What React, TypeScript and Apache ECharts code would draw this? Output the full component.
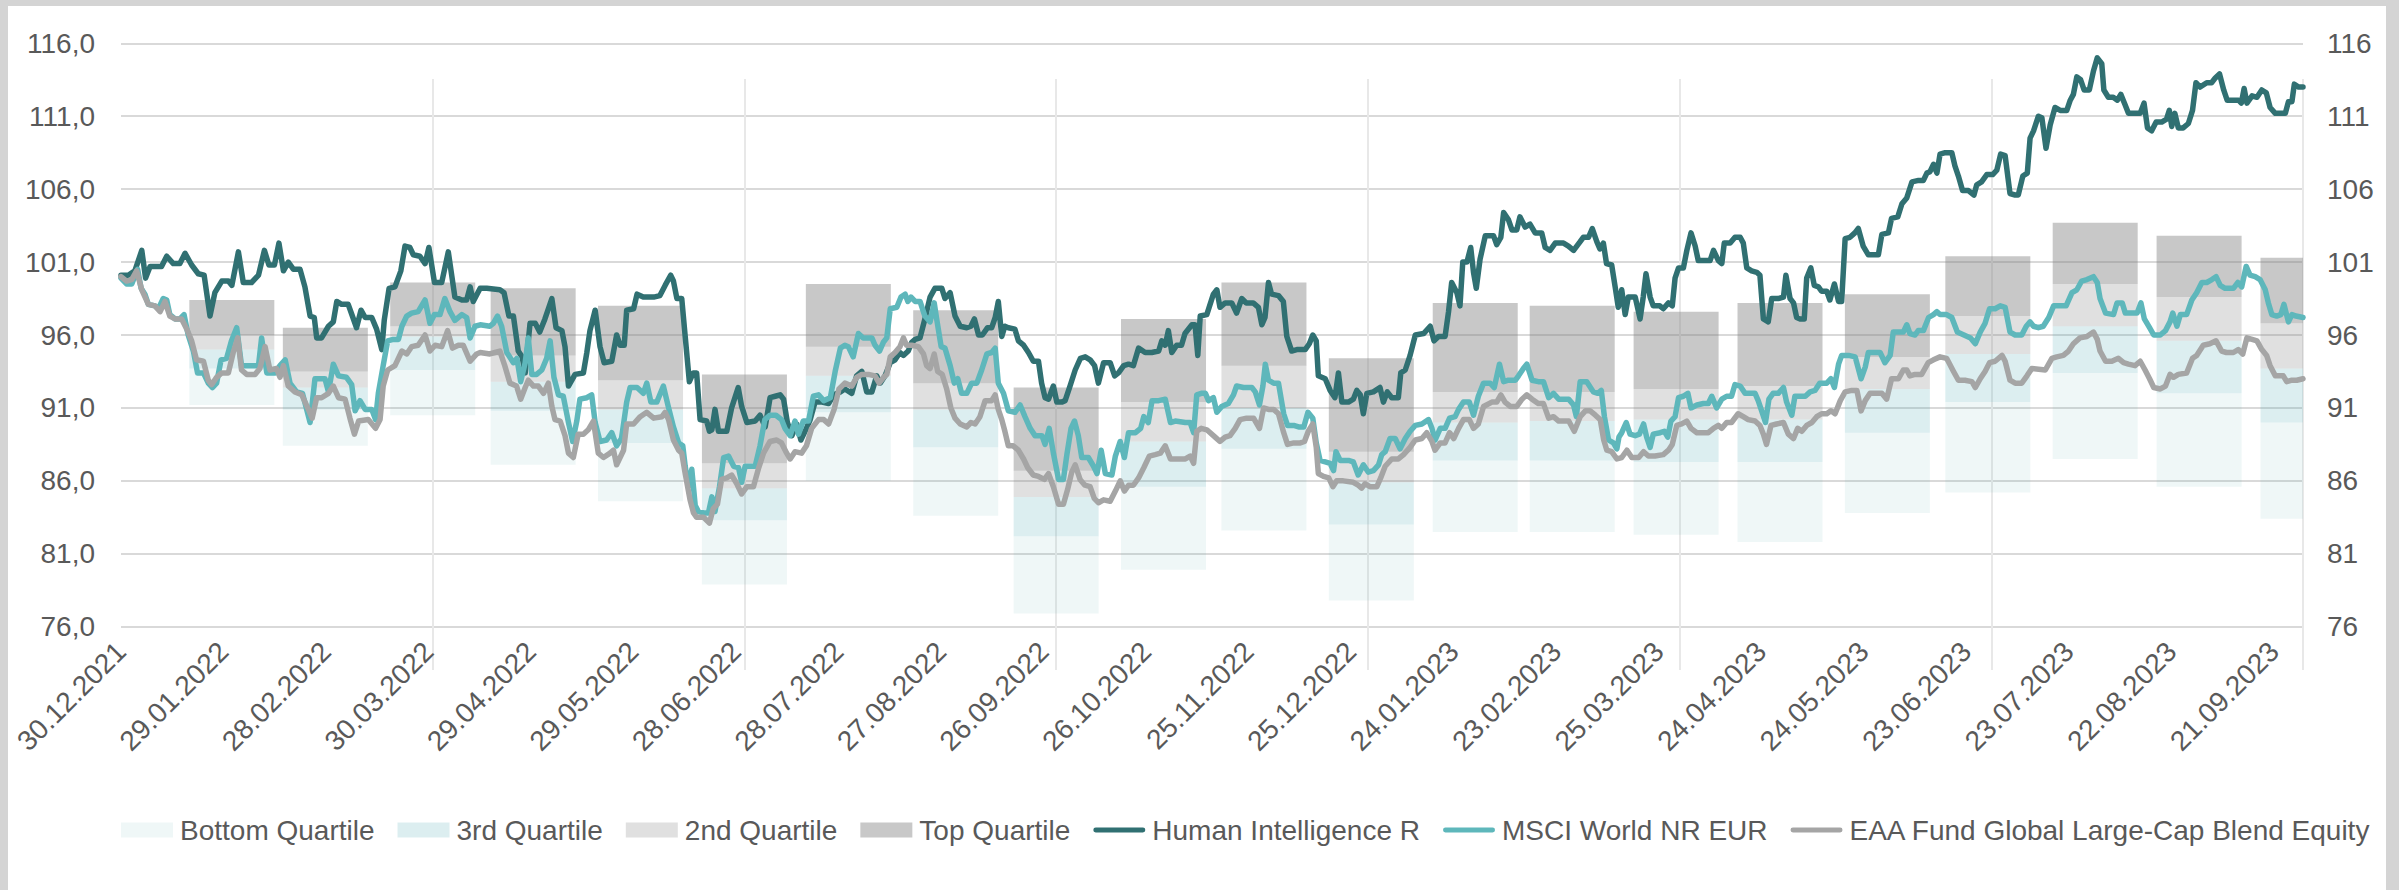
import React, { useEffect, useRef } from 'react';
import * as echarts from 'echarts';

// x positions are days since 30.12.2021
const xTickLabels = [
  '30.12.2021', '29.01.2022', '28.02.2022', '30.03.2022', '29.04.2022', '29.05.2022',
  '28.06.2022', '28.07.2022', '27.08.2022', '26.09.2022', '26.10.2022', '25.11.2022',
  '25.12.2022', '24.01.2023', '23.02.2023', '25.03.2023', '24.04.2023', '24.05.2023',
  '23.06.2023', '23.07.2023', '22.08.2023', '21.09.2023',
];

// Peer-group quartile boxes (monthly)
const boxDays = [32, 59, 90, 119, 150, 180, 210, 241, 270, 301, 330, 361, 391, 419, 449, 479, 510, 539, 570, 600, 630];
const q5 = [91.2, 88.4, 90.5, 87.1, 84.6, 78.9, 86.0, 83.6, 76.9, 79.9, 82.6, 77.8, 82.5, 82.5, 82.3, 81.8, 83.8, 85.2, 87.5, 85.6, 83.4];
const q25 = [93.7, 90.9, 93.6, 90.8, 88.6, 83.3, 90.7, 88.3, 82.2, 85.6, 88.2, 83.0, 87.4, 87.4, 87.3, 87.3, 89.3, 91.4, 93.4, 92.0, 90.0];
const q50 = [95.0, 92.4, 95.9, 92.8, 90.9, 85.5, 93.2, 90.9, 84.9, 88.7, 91.0, 85.9, 90.0, 90.1, 90.2, 90.2, 92.3, 94.7, 96.6, 95.6, 93.7];
const q75 = [96.0, 93.5, 96.6, 94.6, 92.9, 87.2, 95.2, 92.7, 86.7, 91.4, 93.9, 88.0, 92.1, 92.1, 92.3, 92.5, 94.5, 97.3, 99.5, 98.6, 96.8];
const q95 = [98.4, 96.5, 99.6, 99.2, 98.0, 93.3, 99.5, 97.7, 92.4, 97.1, 99.6, 94.4, 98.2, 98.0, 97.6, 98.2, 98.8, 101.4, 103.7, 102.8, 101.3];

const humanIntelligence: [number, number][] = [
  [0,100.1],[2.1,100.1],[4,100.4],[6,101.8],[7.1,99.9],[8.4,100.7],[11.7,100.7],[13.2,101.4],[15.1,100.9],[17,100.9],[18.5,101.6],[20.4,100.8],[22.3,100.2],[24,100.1],[25.7,97.3],[27.1,98.9],[29.1,99.7],[31,99.7],[32,99.4],[33.9,101.7],[35.3,99.6],[37.7,99.6],[39.7,100.1],[41.4,101.8],[42.7,100.8],[44.3,100.8],[45.6,102.3],[46.9,100.4],[48.3,101.0],[49.8,100.5],[51.7,100.5],[53.1,99.3],[54.6,97.3],[55.8,97.2],[56.5,95.8],[57.9,95.8],[59.9,96.6],[61.3,96.9],[62.3,98.3],[63.7,98.1],[65.6,98.1],[66.8,97.3],[68,96.5],[69.3,97.7],[70.5,97.2],[72.4,97.2],[73.8,96.4],[75.3,95.0],[76,97.0],[77.4,99.2],[79.1,99.3],[80.8,100.4],[82,102.1],[83.4,102.0],[84.4,101.5],[86.3,101.4],[87.8,100.9],[88.9,102.0],[90.5,99.6],[92.6,99.6],[94.5,101.7],[96.4,98.6],[98.4,98.4],[99.8,98.4],[100.8,99.3],[101.7,98.3],
  [103.7,99.2],[105.6,99.2],[109.4,99.1],[110.6,98.9],[112,97.3],[113.3,97.3],[114.7,94.9],[115.8,94.5],[116.7,93.4],[118.1,96.8],[119.6,96.8],[120.9,96.2],[122.4,97.1],[124.4,98.5],[125.6,96.5],[127.3,96.3],[128.2,95.2],[129.2,92.5],[131.1,93.3],[133.5,93.4],[134.5,94.8],[135.4,96.3],[136.9,97.7],[138.3,95.2],[139.5,94.1],[141.7,94.2],[143.1,96.0],[144.1,95.3],[145.3,95.3],[146,97.7],[148,97.8],[149,98.8],[150.8,98.6],[153.8,98.6],[155.6,98.7],[157.1,99.4],[158.7,100.1],[159.5,99.7],[160.5,98.5],[161.9,98.5],[162.9,95.9],[164.1,92.8],[165.2,93.4],[166.2,93.4],[167.2,90.2],[169.1,90.1],[169.9,89.4],[170.6,89.5],[171.5,90.9],[172.5,89.4],[174.9,89.4],[176.3,91.0],[178.2,92.4],[179.2,91.1],[180.7,90.0],[183.1,90.1],[184.5,90.5],[186,89.7],[187.4,91.7],[188.9,91.8],[190.3,91.9],[191.3,91.6],[192.4,90.0],[193.7,89.1],[195.1,89.9],[196.3,88.8],[197.5,89.4],[199,90.2],[200.4,91.4],[202.4,91.4],[204.3,91.3],[205.8,91.9],[207.7,92.1],
  [209,92.3],[211,92.0],[212.4,93.2],[213.9,93.5],[215.3,92.1],[216.8,92.1],[218.2,93.2],[219.2,92.7],[220.6,93.2],[222.1,94.1],[223.5,94.3],[224.9,94.8],[225.9,94.6],[227.3,94.9],[228.3,95.5],[229.3,95.7],[230.7,95.8],[232.1,97.1],[233.6,98.6],[235,99.2],[237,99.2],[237.9,98.5],[239.4,98.9],[240.8,97.3],[242.3,96.6],[244.2,96.5],[245.4,96.6],[246.4,97.1],[247.6,96.0],[248.7,96.0],[250.2,96.5],[251.4,96.5],[252.4,97.2],[253.3,98.3],[254.3,95.9],[255.2,96.6],[256.2,96.5],[258.1,96.4],[259.1,95.6],[260.6,95.3],[262,94.8],[263.4,94.2],[264.9,94.2],[265.8,92.7],[266.8,91.7],[267.8,91.6],[269.2,92.5],[270.2,91.4],[271.6,91.4],[272.6,91.5],[274,92.5],[275.5,93.6],[277,94.4],[278.4,94.5],[279.8,94.3],[281.1,93.9],[282.2,92.7],[283.7,94.1],[285.6,94.1],[286.9,93.2],[288,93.4],[289.5,93.9],[290.9,94.0],[292.3,93.9],[293.8,95.1],[295.7,94.8],[297.6,94.8],[299.6,94.9],[300.5,95.6],[301.5,95.3],[302.4,96.3],[303.4,94.8],[304.8,95.3],[306.2,95.3],[307.2,96.1],[309.2,96.7],[310.1,96.7],[310.9,94.6],[311.6,97.3],[313.5,97.4],
  [315.4,98.8],[316.4,99.1],[317.3,97.9],[318.8,98.2],[320.7,98.2],[322.1,97.5],[323.6,98.5],[324.9,98.2],[326.9,98.2],[328.4,97.9],[329.4,96.7],[330.3,97.2],[331.3,99.6],[332.2,98.8],[334.2,98.7],[335.6,98.3],[336.6,95.9],[338,94.9],[339.5,95.0],[341.9,95.0],[343.1,95.4],[344.1,96.0],[345.1,95.6],[345.7,93.2],[347.7,93.0],[349.1,92.2],[350.5,91.7],[351.5,93.4],[352.5,91.4],[354.4,91.4],[355.8,91.6],[356.8,92.2],[357.8,91.9],[358.7,90.6],[359.7,92.0],[361.6,92.1],[363.5,92.4],[364.5,91.4],[365.6,92.1],[366.9,91.7],[368.8,91.7],[369.5,93.4],[370.8,93.6],[372.2,94.6],[373.7,96.0],[376.1,96.1],[378,96.6],[379.1,95.6],[380.4,95.9],[382.3,95.9],[383.3,97.6],[384.2,99.6],[385.7,98.9],[386.6,98.0],[387.4,101.0],[388.6,101.0],[389.7,102.0],[390.5,100.3],[391.3,99.2],[392.4,101.2],[393.9,102.8],[396.3,102.8],[397.2,102.2],[398.4,102.7],[399.2,104.4],[400.6,103.9],[401.6,103.2],[403,103.2],[403.9,104.1],[405.4,103.4],[406.8,103.6],[408.3,103.0],[410.2,103.0],[411.2,102.0],[412.6,101.8],[414.1,102.3],[416.5,102.3],[417.9,102.1],[419.4,101.8],
  [421.3,102.4],[422.2,102.7],[423.7,102.7],[424.8,103.3],[426.1,102.4],[427,101.9],[428,102.3],[428.9,100.9],[430.4,100.8],[431.4,99.3],[432.3,97.9],[433.3,99.1],[434.3,97.4],[435.2,98.6],[437.2,98.6],[438.6,97.1],[439.5,98.6],[440.3,100.2],[441.5,98.6],[442.4,98.0],[444.3,98.0],[445.3,97.8],[446.8,98.2],[447.9,98.0],[448.7,99.9],[449.7,100.6],[451.1,100.6],[452.1,101.8],[453.3,103.0],[454.5,102.1],[455.4,101.1],[456.9,101.1],[458.8,101.1],[459.8,101.8],[461.2,101.1],[462.2,100.9],[462.9,102.3],[464.6,102.3],[466,102.7],[467.5,102.7],[468.4,102.3],[469.4,100.6],[470.8,100.4],[472.3,100.3],[473.2,100.1],[474.2,97.1],[475.6,96.9],[476.6,98.5],[478.5,98.5],[480,98.6],[480.7,100.1],[481.9,98.5],[482.9,98.2],[483.8,97.2],[484.8,97.1],[486,97.1],[486.7,99.9],[487.9,100.6],[488.9,99.4],[490.1,99.3],[491,99.0],[492.5,99.0],[493.4,98.4],[494.7,99.5],[495.9,98.3],[496.8,98.3],[497.8,102.6],[499.2,102.7],[500.6,103.0],[501.6,103.3],[503,102.1],[504.5,101.5],[505.9,101.5],[507.4,101.5],[508.4,102.9],[510.3,103.0],[511.2,104.0],[513,104.1],[514.2,105.0],[515.6,105.4],[517.1,106.5],[519,106.6],[520.4,106.6],[521.4,107.1],[522.3,107.2],[523.3,107.7],[524.3,107.1],[525.2,108.4],
  [526.7,108.5],[528.6,108.5],[529.5,107.6],[530.5,106.9],[531.7,105.9],[533.4,105.9],[535,105.6],[535.8,106.3],[537.2,106.5],[538.7,107.0],[540.4,107.0],[541.6,107.3],[542.7,108.4],[544,108.3],[545.4,105.7],[546.9,105.6],[547.8,105.6],[549.1,106.9],[550.4,107.1],[551.2,109.5],[552.2,110.0],[553.6,111.0],[554.6,110.9],[555.8,108.8],[557,110.4],[558.4,111.6],[559.9,111.4],[561.8,111.4],[562.8,112.1],[563.7,112.5],[564.7,113.7],[565.8,113.5],[566.8,112.8],[568.3,112.8],[569.5,114.1],[570.6,115.0],[571.9,114.6],[572.5,112.8],[573.8,112.3],[575.2,112.3],[576.4,112.1],[577.4,112.5],[578.6,111.8],[579.6,111.2],[581,111.2],[583,111.2],[584.1,111.9],[585.1,110.2],[586.3,110.0],[587.6,110.6],[589.2,110.6],[590.6,110.8],[591.4,111.4],[592.1,110.3],[593,111.2],[594,110.2],[595.4,110.2],[596.9,110.5],[598.1,111.4],[599.1,113.3],[600.3,113.0],[602.2,113.3],[603.6,113.3],[604.6,113.6],[605.9,113.9],[607.1,112.8],[608.1,112.1],[610,112.1],[611.4,112.1],[612.2,111.9],[613,112.9],[613.8,111.9],[615.3,112.4],[616.7,112.3],[618.1,112.8],[619.4,112.6],[620.5,111.6],[622,111.2],[623.9,111.2],[624.9,111.2],[625.8,112.0],[626.8,112.0],[627.5,113.2],[628.7,113.0],[630,113.0],
];

const msciWorld: [number, number][] = [
  [0,99.9],[1.6,99.5],[3.1,99.5],[4.8,100.5],[5.8,99.2],[6.9,98.8],[7.9,98.1],[9.8,98.0],[10.8,97.8],[12.2,98.5],[13.2,98.4],[14.1,97.4],[15.6,97.1],[17,97.1],[18.2,97.4],[19.4,96.0],[20.9,94.9],[22.1,93.4],[23.8,93.4],[25.2,92.7],[26.4,92.4],[27.6,92.7],[28.9,94.3],[30.5,94.4],[31.9,95.6],[33.4,96.5],[34.8,93.9],[38.2,93.9],[39.7,93.9],[40.6,95.8],[42.1,93.4],[44.5,93.4],[45.9,93.9],[47.4,94.3],[48.8,92.7],[50.7,92.1],[52.4,92.0],[54.6,90.0],[56,93.0],[58.9,93.0],[59.9,92.1],[61.3,94.0],[62.8,93.2],[65.1,93.1],[66.6,92.6],[67.6,90.8],[69,91.5],[70.5,90.9],[72.4,90.9],[73.5,90.2],[74.3,92.0],[75.7,93.9],[77,95.6],[78.6,95.7],[80.1,95.7],[81.1,96.6],[82.5,97.3],[83.9,97.5],[85.8,97.6],[87.8,98.4],[89.2,96.8],[90.5,97.4],[92.1,97.4],[93.5,98.5],[95,97.6],[96.4,97.0],[98.4,97.4],[99.8,97.2],[100.8,95.8],[102.2,96.6],
  [103.7,96.7],[106.5,96.6],[107.5,96.8],[108.7,97.3],[109.9,96.6],[111.4,94.8],[113.3,94.1],[114.3,94.4],[115.4,92.8],[116.7,94.1],[117.6,95.8],[118.6,93.3],[120,93.3],[121.5,93.6],[122.9,94.4],[123.9,95.6],[125,93.1],[126.3,91.9],[127.7,91.8],[129.2,90.0],[130.4,88.7],[131.6,90.1],[132.5,91.6],[134.5,91.7],[135.9,91.9],[136.9,90.0],[138.3,88.7],[140.2,88.8],[141.7,89.3],[143.1,88.4],[144.5,88.9],[146,91.4],[147,92.4],[149,92.4],[150.8,92.0],[151.8,92.7],[153,91.4],[154.7,91.4],[156.6,92.5],[158,91.1],[159.5,89.7],[161,88.6],[162.2,88.4],[162.9,87.0],[163.8,85.6],[164.8,86.8],[165.8,84.3],[166.7,83.9],[168.2,83.8],[169.6,83.8],[170.6,84.9],[171.5,83.9],[172.8,85.6],[174,87.6],[175.4,87.7],[176.9,87.0],[178.3,86.9],[179.2,85.9],[180.2,87.0],[183.1,87.0],[184.5,88.4],[185.9,90.2],[187.4,90.5],[189.1,90.5],[190.7,90.2],[191.7,89.6],[193.2,89.1],[194.6,90.1],[195.6,89.2],[197,90.1],[198.5,90.1],[199.9,91.8],[201.4,91.9],[202.9,91.5],[204.8,91.7],[206.2,93.5],[207.7,95.1],
  [209,95.3],[210,95.2],[211.4,94.5],[212.9,96.1],[214.3,95.8],[216.8,95.8],[217.7,95.3],[219,94.9],[220.1,95.5],[221.1,95.8],[222.1,97.8],[224,97.9],[225.2,98.6],[226.4,98.8],[227.2,98.3],[228.1,98.6],[229.3,98.3],[230.7,98.3],[232.1,97.3],[233.6,96.9],[234.8,98.2],[235.5,97.1],[236.8,95.2],[237.9,95.1],[239.4,93.9],[240.6,92.7],[241.6,93.0],[242.7,92.0],[244.2,92.0],[245.6,92.7],[247.1,92.7],[248.5,93.6],[250,94.7],[251.4,94.8],[252.4,95.1],[253.3,92.7],[254.8,92.0],[256.2,90.8],[258.1,90.7],[259.6,91.2],[261,90.4],[262.5,89.6],[263.9,89.1],[265.9,89.1],[266.8,88.5],[268,89.6],[269.2,87.9],[270.7,86.1],[272.1,86.1],[273.1,87.8],[274.3,89.6],[275.3,90.1],[276.4,89.1],[277.4,87.6],[279.3,87.6],[280.8,87.0],[281.8,86.5],[283,88.1],[284.2,86.5],[286.1,86.4],[287.1,87.7],[288.5,88.7],[289.7,87.6],[290.9,89.3],[292.9,89.3],[294.4,89.6],[295.3,90.4],[296.6,90.0],[297.7,91.5],[299.6,91.5],[301.5,91.6],[303,90.0],[304.4,90.1],[307.3,90.0],[308.7,90.0],[309.7,89.3],[310.6,91.9],[311.9,92.0],[313.1,92.0],[314,91.5],
  [315.4,91.7],[316.4,90.7],[317.8,91.1],[319.7,91.3],[321.2,91.9],[322.1,92.5],[324.1,92.4],[326.5,92.4],[327.5,92.1],[328.7,91.2],[329.7,92.5],[330.4,94.0],[331.3,92.9],[332.8,92.7],[334.2,92.7],[335.7,90.6],[336.8,89.8],[338.6,89.8],[340,89.7],[341.5,89.7],[342.7,90.7],[344.1,90.3],[345.1,88.6],[346.2,87.4],[347.7,87.3],[349.1,87.2],[350.1,86.7],[350.8,88.0],[352,87.4],[354.4,87.4],[355.8,87.3],[357.2,86.4],[358.7,87.1],[360.1,86.6],[361.6,86.7],[363.1,87.1],[364,87.8],[365,88.0],[366.4,88.9],[367.9,88.9],[369.3,88.2],[370.8,88.9],[372.2,89.4],[373.7,89.8],[375.6,89.9],[377.5,90.2],[378.5,89.6],[379.4,88.8],[380.9,89.6],[382.3,89.6],[383.6,90.3],[385.2,90.4],[386.2,90.9],[387.6,91.4],[389.3,91.4],[390.5,90.5],[391.9,91.8],[393.4,92.7],[395.3,92.7],[396.5,92.4],[398,94.0],[399.2,92.8],[400.6,92.9],[402.6,92.9],[403.5,93.2],[404.9,93.7],[405.9,94.0],[407.4,92.9],[409.2,92.8],[410.7,92.8],[412.2,91.7],[413.6,92.0],[415.1,91.6],[418,91.6],[419.4,91.2],[420.2,90.4],
  [421.3,92.8],[423.2,92.8],[425.1,92.1],[426.4,92.0],[427.4,92.2],[428.3,90.4],[429.5,88.8],[430.9,88.6],[431.9,88.2],[432.5,89.0],[433.3,89.3],[434.6,90.0],[435.7,89.2],[437.2,89.1],[438.4,89.2],[439.6,89.9],[440.5,89.0],[441.5,88.3],[442.4,89.2],[444.4,89.3],[445.6,89.4],[446.6,89.0],[447.5,90.1],[448.7,90.4],[449.7,91.7],[451.1,91.8],[452.4,92.0],[453.3,91.0],[455,91.2],[456.9,91.3],[458.3,91.3],[459.3,91.8],[460.7,91.0],[462.2,91.6],[463.6,91.8],[465,91.8],[466,92.6],[467.5,92.5],[468.9,92.0],[471.8,92.0],[472.7,91.5],[473.7,90.8],[474.8,90.0],[475.8,91.6],[477,92.0],[478.5,92.0],[480,92.4],[480.9,91.4],[482.4,90.5],[483.3,91.8],[486.3,91.8],[487.7,92.1],[489.1,92.2],[490.5,92.7],[492.5,92.7],[493.7,93.0],[494.7,92.4],[495.9,94.0],[496.8,94.6],[498.8,94.6],[500.7,94.5],[502.4,93.0],[503.6,93.8],[504.5,94.8],[507.9,94.8],[509.3,94.1],[510.8,94.6],[511.7,96.2],[514.6,96.2],[515.6,96.7],[516.5,96.1],[518,96.0],[518.9,96.3],[520.4,96.3],[521.9,97.2],[523.3,97.4],[524.3,97.6],[525.2,97.4],
  [527.1,97.4],[528.6,97.2],[530.2,96.2],[532.1,96.0],[534,95.8],[535.4,95.4],[536.8,96.2],[538.2,96.8],[539.5,97.8],[541.1,97.8],[542.6,98.0],[544,97.9],[545.4,96.2],[546.9,96.0],[548.8,96.0],[550.1,96.6],[551.2,96.9],[552.2,96.6],[553.6,96.5],[555,96.6],[556.6,97.2],[558,98.0],[561.6,98.0],[563.3,98.9],[564.7,99.1],[566.1,99.7],[567.6,99.8],[569.5,100.0],[570.6,99.6],[571.4,98.5],[573,97.5],[575.3,97.4],[576.3,98.2],[577.8,98.2],[578.7,97.5],[582.1,97.5],[583.2,98.2],[584.2,97.1],[585.7,96.5],[586.9,96.0],[588.8,96.0],[590.3,96.3],[591.6,96.9],[592.4,97.5],[593.6,96.6],[594.6,97.4],[596.4,97.4],[597.9,98.4],[599.3,98.9],[600.8,99.6],[602.2,99.6],[603.7,99.8],[604.9,100.0],[606.1,99.4],[607.5,99.2],[609.9,99.2],[611.2,99.6],[612.3,99.3],[613.6,100.7],[614.7,100.1],[616.2,100.0],[617.6,99.8],[619.1,99.1],[620,98.2],[621,97.4],[622.4,97.3],[623.6,97.4],[624.5,98.1],[625.8,96.9],[626.8,97.4],[628,97.3],[630,97.2],
];

const eaaFund: [number, number][] = [
  [0,100.0],[1.6,99.7],[3.1,99.8],[4.5,100.4],[6,99.1],[7.9,98.1],[9.8,98.0],[11.3,97.6],[12.7,98.3],[14.1,97.3],[15.6,97.1],[17.5,97.1],[19,96.4],[20.4,95.6],[21.8,94.3],[23.8,94.2],[25.2,92.9],[26.2,92.6],[27.6,93.1],[29.1,93.4],[31,93.4],[32.4,94.8],[33.7,95.8],[34.8,93.6],[36.3,93.3],[38.7,93.3],[40.1,93.7],[41.6,95.2],[43,93.6],[44.9,93.7],[45.9,93.1],[46.9,93.9],[48.3,92.5],[50.2,92.1],[52.2,91.9],[54.1,90.9],[55.2,90.3],[56.5,91.7],[57.9,91.7],[59.9,92.0],[61.3,92.5],[62.8,91.7],[64.7,91.6],[66.1,90.3],[67.4,89.2],[68.6,90.1],[71.4,90.2],[73.5,89.6],[74.8,90.2],[75.7,92.5],[77,93.6],[79.1,93.9],[81.1,94.9],[82.5,94.7],[83.9,95.2],[85.8,95.3],[87.8,96.0],[89.2,94.9],[90.7,95.3],[92.6,95.2],[94.3,96.3],[95.7,95.1],[97.4,95.3],[98.8,95.3],[100.8,94.2],[102.7,94.7],
  [103.7,94.8],[106.5,94.7],[108,94.8],[109.4,94.9],[110.8,93.9],[112.3,92.7],[114.2,92.5],[115.4,91.6],[116.7,92.4],[117.6,92.9],[119.1,92.5],[120.5,92.5],[122,92.0],[123.4,92.7],[124.4,91.1],[125.3,90.2],[126.8,90.1],[128.2,89.1],[129.2,87.9],[130.6,87.6],[132,89.2],[133.5,89.2],[134.9,89.5],[136.4,90.1],[137.8,87.9],[139.3,87.6],[141.2,87.9],[142.2,88.1],[143.1,87.1],[145.1,88.1],[146,89.9],[148,89.9],[149.9,90.4],[151.8,90.7],[153.8,90.3],[156.2,90.4],[157.1,90.7],[158.1,90.2],[159.5,88.8],[161,88.1],[161.9,87.9],[162.9,86.5],[164.3,84.7],[165.3,83.8],[166.2,83.5],[168.2,83.5],[169.9,83.1],[171,84.1],[172.2,84.4],[173.4,86.1],[174.9,86.2],[176.3,86.4],[177.8,85.8],[179.2,85.1],[180.7,85.6],[182.6,85.6],[184,86.8],[185.5,87.9],[187.4,88.7],[189.3,88.8],[190.7,88.6],[192.2,87.9],[193.2,87.5],[194.6,88.0],[196.5,87.9],[197.9,88.4],[199.4,89.6],[201.4,90.2],[202.9,90.2],[204.3,89.9],[205.9,90.9],[207.3,92.3],
  [209,92.7],[211,92.5],[212.4,93.1],[213.9,93.3],[215.8,93.3],[217.7,93.2],[218.9,92.7],[220.2,93.1],[221.1,93.3],[222.1,94.5],[223.5,94.8],[224.9,95.2],[225.9,95.8],[226.8,95.3],[228.3,95.3],[230.2,95.2],[231.7,94.7],[232.6,93.9],[233.6,93.7],[234.8,94.7],[235.8,93.5],[237.1,93.3],[238.4,92.3],[239.6,91.0],[240.8,90.3],[242.3,89.9],[244.2,89.7],[245.4,90.0],[246.6,89.9],[248,90.4],[249.5,91.5],[251.4,91.5],[252.4,91.9],[253.3,90.9],[254.3,90.2],[255.2,89.4],[256.2,88.4],[257.6,88.4],[259.1,88.1],[260.6,87.5],[261.8,86.9],[263.4,86.4],[264.9,86.3],[266.6,86.1],[267.8,86.5],[269.2,85.6],[270.7,84.4],[272.1,84.4],[273.3,85.4],[274.5,86.6],[275.5,87.1],[276.9,86.1],[278.3,85.7],[279.8,85.6],[281,84.8],[282.2,84.5],[283.7,84.7],[285.6,84.6],[287.1,85.3],[288.5,86.0],[289.7,85.3],[290.9,85.7],[292.3,85.7],[293.8,86.2],[295.3,86.9],[296.9,87.7],[298.6,87.8],[300.1,87.9],[301.5,88.4],[303,87.5],[307.3,87.5],[308.7,87.7],[309.7,87.2],[310.6,89.4],[311.9,89.6],[313.5,89.5],
  [315.9,89.0],[317.3,88.7],[318.8,89.0],[320.2,89.1],[321.7,89.6],[323.1,90.2],[325,90.3],[327,90.3],[328.7,89.6],[329.9,91.0],[331.3,90.9],[332.8,90.9],[334.2,90.6],[335.7,89.3],[336.8,88.5],[338.6,88.6],[340.5,88.6],[341.7,88.7],[342.8,89.4],[344.1,89.9],[345.1,88.3],[345.7,86.5],[347.2,86.3],[348.7,86.2],[349.9,85.6],[351,86.0],[352.9,86.0],[355.8,85.9],[357.2,85.7],[358.2,85.5],[359.2,85.8],[360.6,85.6],[362.6,85.6],[363.7,86.2],[365,87.0],[366.9,87.5],[368.8,87.5],[370.3,87.8],[372.2,88.3],[373.7,88.8],[375.6,88.9],[377,89.3],[378.5,88.7],[379.4,88.1],[380.9,88.6],[382.3,88.6],[383.6,89.3],[384.8,88.9],[386.2,89.6],[387.6,90.2],[389.3,90.2],[390.5,89.6],[391.9,89.9],[393.4,91.1],[395.8,91.4],[397.2,91.4],[398.4,91.9],[399.6,91.4],[401.1,91.1],[403,91.1],[404.5,91.6],[405.9,91.9],[407.4,91.6],[409.2,91.3],[410.7,91.3],[412.2,90.3],[413.6,90.4],[415.1,90.1],[418,90.1],[419.6,89.4],
  [421.3,90.4],[422.8,90.8],[424.2,90.8],[425.7,90.5],[427.1,90.2],[428.1,88.8],[429,88.1],[430.4,88.0],[431.9,87.5],[433.3,87.6],[434.8,88.1],[436.2,87.6],[438.2,87.6],[439.6,88.0],[441,87.7],[442.9,87.7],[445.3,87.8],[446.8,88.1],[447.9,88.5],[449.2,89.8],[450.6,89.9],[452.1,90.1],[453.3,89.6],[455,89.3],[458.3,89.3],[459.8,89.6],[461.2,89.8],[462.2,89.6],[463.6,90.0],[465,90.0],[466.9,90.6],[468.4,90.4],[469.8,90.2],[471.8,90.1],[473.2,89.8],[474.2,89.2],[475.1,88.5],[476.4,89.8],[478,89.9],[480,90.0],[481.4,89.2],[482.9,88.9],[484.1,89.6],[485.3,89.4],[486.7,89.8],[488.2,90.0],[489.6,90.4],[491,90.6],[492.5,90.6],[493.7,90.8],[494.9,90.6],[496.4,91.5],[497.8,92.1],[499.7,92.2],[501.2,92.2],[502.4,90.8],[503.6,91.5],[505,92.0],[508.4,92.0],[509.8,91.6],[511.2,93.0],[513.2,93.0],[514.6,93.6],[515.6,93.6],[516.5,93.2],[518,93.3],[519.9,93.3],[521.8,94.1],[523.3,94.3],[525.2,94.5],
  [527.1,94.4],[529.1,93.5],[530.5,92.9],[532.4,92.9],[534.4,92.8],[535.4,92.4],[536.8,93.0],[538.2,93.5],[539.5,94.1],[541.1,94.2],[543.1,94.6],[544,94.2],[545.4,92.9],[546.9,92.7],[548.8,92.7],[550.3,93.2],[551.7,93.7],[555.6,93.6],[557.5,94.4],[558.9,94.5],[560.8,94.6],[562.3,94.9],[563.7,95.4],[565.6,95.8],[567.6,95.9],[569.5,96.2],[570.6,95.7],[571.4,94.9],[573,94.2],[574.8,94.2],[576.7,94.4],[578.2,94.1],[579.6,94.0],[581.5,93.9],[583,94.2],[584.4,93.6],[585.7,93.0],[586.9,92.4],[588.8,92.3],[590.3,92.5],[591.6,93.3],[592.6,93.1],[594,93.3],[596.4,93.4],[598.1,94.4],[599.3,94.6],[601.2,95.3],[603.1,95.4],[604.9,95.6],[606.5,94.9],[607.9,94.8],[609.9,94.8],[611.3,95.0],[612.6,94.7],[613.8,95.8],[615.3,95.7],[616.7,95.6],[618.1,95.0],[619.5,94.6],[620.5,93.9],[622,93.2],[624.3,93.2],[625.3,92.8],[626.8,92.9],[628.2,92.9],[630,93.0],
];

const FONT = "'Liberation Sans', Arial, sans-serif";
const TEXT = '#595959';
const BOX_WIDTH = 85;
const LINE_ICON = 'path://M2.5,0H51.5A2.5,2.5,0,0,1,51.5,5H2.5A2.5,2.5,0,0,1,2.5,0Z';

export default function App() {
  const ref = useRef<HTMLDivElement>(null);

  useEffect(() => {
    if (!ref.current) return;
    const chart = echarts.init(ref.current, undefined, { renderer: 'svg' });

    const renderBox = (params: any, api: any) => {
      const x = api.value(0);
      const lo = api.value(1);
      const hi = api.value(2);
      const pTop = api.coord([x, hi]);
      const pBot = api.coord([x, lo]);
      const cs = params.coordSys;
      const shape = echarts.graphic.clipRectByRect(
        { x: pTop[0] - BOX_WIDTH / 2, y: pTop[1], width: BOX_WIDTH, height: pBot[1] - pTop[1] },
        { x: cs.x, y: cs.y, width: cs.width, height: cs.height },
      );
      return shape ? { type: 'rect', shape, style: api.style() } : null;
    };

    const boxSeries = (name: string, lo: number[], hi: number[], color: string) => ({
      type: 'custom',
      name,
      xAxisIndex: 0,
      yAxisIndex: 0,
      renderItem: renderBox,
      encode: { x: 0, y: [1, 2] },
      data: boxDays.map((d, i) => [d, lo[i], hi[i]]),
      itemStyle: { color },
      emphasis: { disabled: true },
      z: 1,
    });

    const lineSeries = (name: string, data: [number, number][], color: string) => ({
      type: 'line',
      name,
      xAxisIndex: 0,
      yAxisIndex: 0,
      symbol: 'none',
      showSymbol: false,
      clip: true,
      data,
      itemStyle: { color },
      lineStyle: { color, width: 5.5, cap: 'round', join: 'round' },
      emphasis: { disabled: true },
      z: 3,
    });

    chart.setOption({
      animation: false,
      textStyle: { fontFamily: FONT },
      grid: [
        { left: 113, right: 83, top: 37.3, bottom: 263.3, containLabel: false },
        { left: 113, right: 83, top: 73, bottom: 220, containLabel: false },
      ],
      legend: {
        left: 113,
        top: 810,
        padding: 0,
        itemWidth: 52,
        itemHeight: 15,
        itemGap: 23,
        selectedMode: false,
        textStyle: { fontSize: 28, color: TEXT, fontFamily: FONT, padding: [0, 0, 0, 2] },
        data: [
          { name: 'Bottom Quartile', icon: 'rect' },
          { name: '3rd Quartile', icon: 'rect' },
          { name: '2nd Quartile', icon: 'rect' },
          { name: 'Top Quartile', icon: 'rect' },
          { name: 'Human Intelligence R', icon: LINE_ICON },
          { name: 'MSCI World NR EUR', icon: LINE_ICON },
          { name: 'EAA Fund Global Large-Cap Blend Equity', icon: LINE_ICON },
        ],
      },
      xAxis: [
        { type: 'value', gridIndex: 0, min: 0, max: 630, show: false },
        {
          type: 'value', gridIndex: 0, min: 0, max: 638.5, interval: 30, position: 'bottom',
          axisLine: { show: false }, axisTick: { show: false }, splitLine: { show: false },
          axisLabel: {
            rotate: 45, margin: 20, fontSize: 28, color: TEXT, fontFamily: FONT,
            showMaxLabel: false,
            formatter: (v: number) => {
              const i = Math.round(v / 30);
              return Math.abs(v - i * 30) < 0.01 && xTickLabels[i] ? xTickLabels[i] : '';
            },
          },
        },
        {
          type: 'value', gridIndex: 1, min: 0, max: 630, interval: 90,
          axisLine: { show: false }, axisTick: { show: false }, axisLabel: { show: false },
          splitLine: { show: true, showMinLine: false, lineStyle: { color: '#E8E8E8', width: 2 } },
        },
      ],
      yAxis: [
        {
          type: 'value', gridIndex: 0, min: 76, max: 116, interval: 5, position: 'left',
          axisLine: { show: false }, axisTick: { show: false },
          splitLine: { show: true, lineStyle: { color: '#D9D9D9', width: 2 } },
          axisLabel: {
            margin: 26, fontSize: 28, color: TEXT, fontFamily: FONT,
            formatter: (v: number) => v.toFixed(1).replace('.', ','),
          },
        },
        {
          type: 'value', gridIndex: 0, min: 76, max: 116, interval: 5, position: 'right',
          axisLine: { show: false }, axisTick: { show: false }, splitLine: { show: false },
          axisLabel: {
            margin: 24, fontSize: 28, color: TEXT, fontFamily: FONT,
            formatter: (v: number) => String(Math.round(v)),
          },
        },
        { type: 'value', gridIndex: 1, min: 0, max: 1, show: false },
      ],
      series: [
        boxSeries('Bottom Quartile', q5, q25, 'rgba(95,175,175,0.1)'),
        boxSeries('3rd Quartile', q25, q50, 'rgba(80,170,180,0.2)'),
        boxSeries('2nd Quartile', q50, q75, 'rgba(128,128,128,0.245)'),
        boxSeries('Top Quartile', q75, q95, 'rgba(128,128,128,0.43)'),
        lineSeries('Human Intelligence R', humanIntelligence, '#307072'),
        lineSeries('MSCI World NR EUR', msciWorld, '#5EB7BB'),
        lineSeries('EAA Fund Global Large-Cap Blend Equity', eaaFund, '#A5A5A5'),
      ],
    });

    return () => chart.dispose();
  }, []);

  return (
    <div style={{ position: 'fixed', left: 0, top: 0, width: 2399, height: 890, background: '#D4D4D4', overflow: 'hidden' }}>
      <div
        ref={ref}
        style={{ position: 'absolute', left: 8, top: 6, width: 2378, height: 884, background: '#FFFFFF' }}
      />
    </div>
  );
}
